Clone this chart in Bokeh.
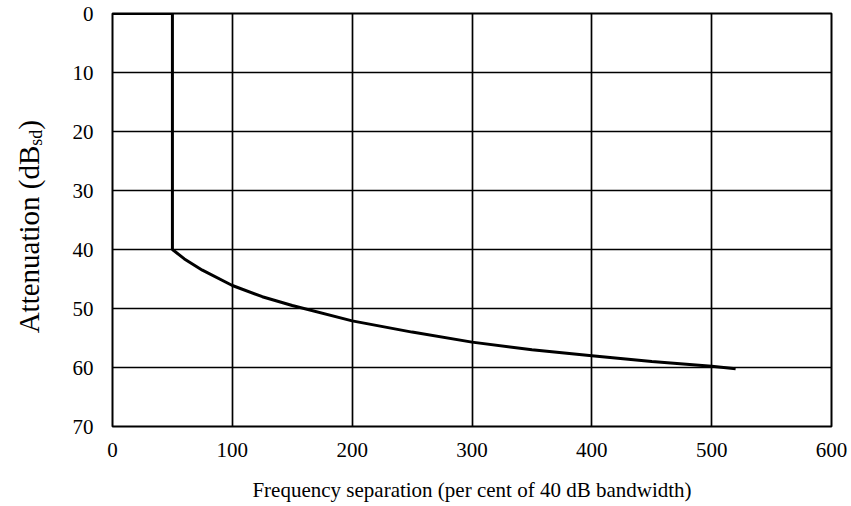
from bokeh.plotting import figure
from bokeh.models import Range1d, FixedTicker, Div
from bokeh.layouts import row
from bokeh.embed import file_html
from bokeh.resources import INLINE

# Data
freq_sep = [0, 50, 50, 60, 75, 100, 125, 150, 200, 250, 300, 350, 400, 450, 500, 520]
attenuation = [0, 0, 40, 41.6, 43.5, 46.1, 48.0, 49.5, 52.1, 54.0, 55.7, 57.0, 58.0, 59.0, 59.8, 60.2]
x_ticks = [0, 100, 200, 300, 400, 500, 600]
y_ticks = [0, 10, 20, 30, 40, 50, 60, 70]

FONT = "Liberation Serif"
DIV_W = 60

p = figure(width=851 - DIV_W, height=506, output_backend="svg", toolbar_location=None,
           x_range=Range1d(0, 600), y_range=Range1d(70, 0),
           min_border_left=112 - DIV_W, min_border_right=20, min_border_top=13, min_border_bottom=80)

p.outline_line_color = "black"
p.outline_line_width = 2
p.background_fill_color = "white"
p.border_fill_color = "white"

for g, t in ((p.xgrid, x_ticks), (p.ygrid, y_ticks)):
    g.grid_line_color = "black"
    g.grid_line_width = 1.7
    g.grid_line_alpha = 1.0
    g.ticker = FixedTicker(ticks=t)

p.xaxis.ticker = FixedTicker(ticks=x_ticks)
p.yaxis.ticker = FixedTicker(ticks=y_ticks)
for ax in (p.xaxis, p.yaxis):
    ax.axis_line_color = None
    ax.major_tick_line_color = None
    ax.minor_tick_line_color = None
    ax.major_tick_out = 0
    ax.major_tick_in = 0
    ax.minor_tick_out = 0
    ax.minor_tick_in = 0
    ax.major_label_text_font = FONT
    ax.major_label_text_font_size = "21px"
    ax.major_label_text_color = "black"
p.yaxis.major_label_standoff = 19
p.xaxis.major_label_standoff = 16

p.xaxis.axis_label = "Frequency separation (per cent of 40 dB bandwidth)"
p.xaxis.axis_label_text_font = FONT
p.xaxis.axis_label_text_font_size = "21px"
p.xaxis.axis_label_text_font_style = "normal"
p.xaxis.axis_label_text_color = "black"
p.xaxis.axis_label_standoff = 18

p.line(freq_sep, attenuation, line_color="black", line_width=3)

# Y axis title with a real subscript, as rotated HTML text beside the plot
ytitle_html = (
    '<div style="width:%dpx;height:506px;box-sizing:border-box;padding-bottom:52px;'
    'display:flex;align-items:center;justify-content:center;background:white;">'
    '<div style="writing-mode:vertical-rl;transform:rotate(180deg);'
    "font-family:'Liberation Serif';font-size:29px;color:black;white-space:nowrap;line-height:1;\">"
    'Attenuation (dB<sub style="font-size:18px;">sd</sub>)</div></div>' % DIV_W
)
ytitle = Div(text=ytitle_html, width=DIV_W, height=506, margin=0)

layout = row(ytitle, p, spacing=0)
open("out.html", "w").write(file_html(layout, INLINE))
